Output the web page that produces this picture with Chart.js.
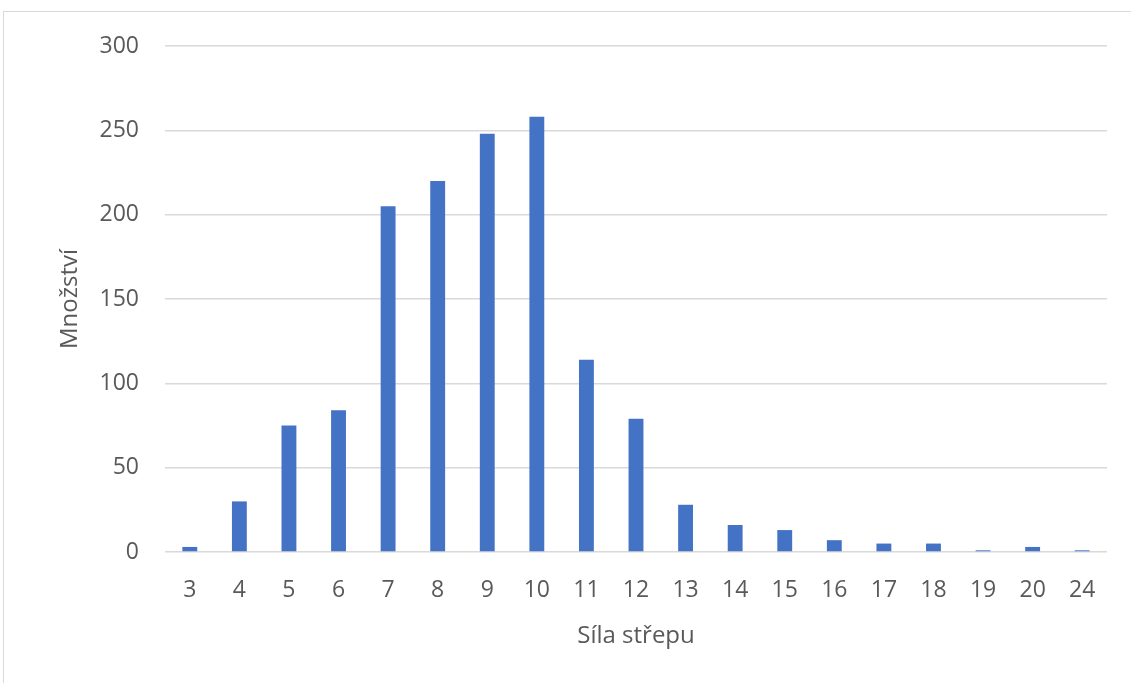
<!DOCTYPE html>
<html>
<head>
<meta charset="utf-8">
<script src="https://cdn.jsdelivr.net/npm/chart.js@4/dist/chart.umd.min.js"></script>
<style>
  html, body { margin: 0; padding: 0; background: #fff; }
  .frame { position: absolute; left: 3px; top: 11px; width: 1200px; height: 700px;
           border-left: 1.5px solid #d9d9d9; border-top: 1.5px solid #d9d9d9; }
  #wrap { position: absolute; left: 0; top: 0; width: 1131px; height: 683px; }
</style>
</head>
<body>
<div class="frame"></div>
<div id="wrap"><canvas id="chart" width="1131" height="683"></canvas></div>
<script>
// Síla střepu vs. množství
const categories = ['3', '4', '5', '6', '7', '8', '9', '10', '11', '12', '13', '14', '15', '16', '17', '18', '19', '20', '24'];
const counts = [3, 30, 75, 84, 205, 220, 248, 258, 114, 79, 28, 16, 13, 7, 5, 5, 1, 3, 1];
const yTicks = [0, 50, 100, 150, 200, 250, 300];

const textColor = '#595959';
const tickFont = { family: 'Open Sans', size: 23 };
const titleFont = { family: 'Open Sans', size: 24 };

const ctx = document.getElementById('chart').getContext('2d');
new Chart(ctx, {
    type: 'bar',
    data: {
        labels: categories,
        datasets: [{
            label: 'Množství',
            data: counts,
            backgroundColor: '#4472C4',
            barPercentage: 0.3,
            categoryPercentage: 1
        }]
    },
    options: {
        responsive: false,
        animation: false,
        layout: { padding: { left: 50, top: 46, right: 24, bottom: 30 } },
        plugins: {
            legend: { display: false },
            tooltip: { enabled: false }
        },
        scales: {
            x: {
                grid: { display: false, drawTicks: false },
                border: { display: false },
                ticks: { color: textColor, font: tickFont, padding: 25, maxRotation: 0 },
                title: { display: true, text: 'Síla střepu', color: textColor, font: titleFont, padding: 2 },
                afterFit: scale => { scale.height = 101; }
            },
            y: {
                min: 0,
                max: 300,
                afterBuildTicks: scale => { scale.ticks = yTicks.map(v => ({ value: v })); },
                grid: { color: '#d9d9d9', lineWidth: 1.5, drawTicks: false },
                border: { display: false },
                ticks: { color: textColor, font: tickFont, padding: 26 },
                title: { display: true, text: 'Množství', color: textColor, font: titleFont, padding: 6 },
                afterFit: scale => { scale.width = 115; }
            }
        }
    }
});
</script>
</body>
</html>
